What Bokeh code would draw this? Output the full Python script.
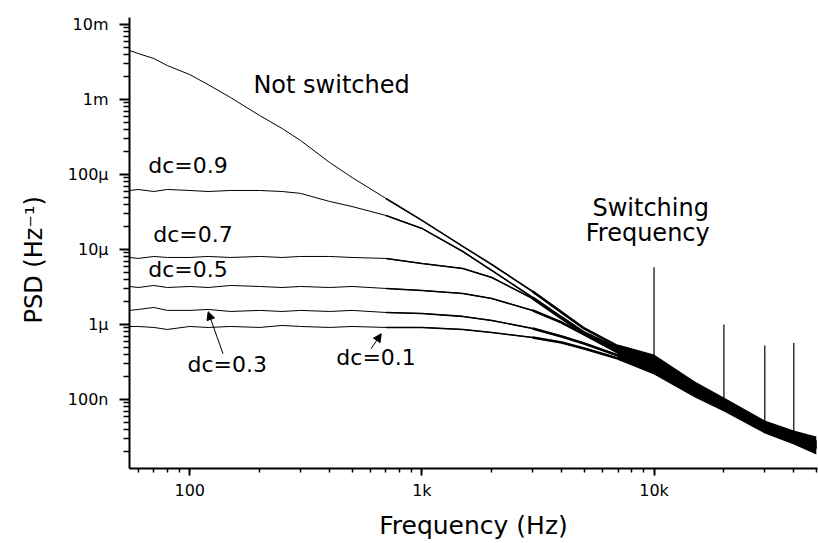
from bokeh.plotting import figure
from bokeh.models import (Range1d, FixedTicker, CustomJSTickFormatter, Arrow, NormalHead,
                          ColumnDataSource, Title)
from bokeh.core.properties import value
from bokeh.embed import file_html
from bokeh.resources import INLINE

# ---------------- data ----------------
freq = [55, 60, 70, 80, 100, 120, 150, 200, 250, 300, 400, 500, 700, 1000,
        1500, 2000, 3000, 4000, 5000, 7000, 10000, 15000, 20000, 30000, 40000, 50000]

psd_not_switched = [4.50e-3, 4.10e-3, 3.52e-3, 2.84e-3, 2.15e-3, 1.58e-3, 1.06e-3, 6.12e-4,
                    4.10e-4, 2.84e-4, 1.45e-4, 9.12e-5, 4.79e-5, 2.44e-5, 1.10e-5, 6.31e-6,
                    2.75e-6, 1.45e-6, 8.85e-7, 5.09e-7, 3.52e-7, 1.49e-7, 9.40e-8, 4.64e-8,
                    3.41e-8, 2.75e-8]
psd_dc09 = [6.12e-5, 6.31e-5, 5.93e-5, 6.31e-5, 6.12e-5, 5.93e-5, 6.12e-5, 6.12e-5,
            5.93e-5, 5.60e-5, 4.37e-5, 3.74e-5, 2.84e-5, 1.91e-5, 9.40e-6, 5.25e-6,
            2.29e-6, 1.24e-6, 7.82e-7, 4.79e-7, 3.31e-7, 1.45e-7, 9.12e-8, 4.50e-8,
            3.31e-8, 2.59e-8]
psd_dc07 = [7.82e-6, 7.59e-6, 8.07e-6, 7.82e-6, 7.82e-6, 8.07e-6, 7.82e-6, 8.07e-6,
            7.82e-6, 8.07e-6, 8.07e-6, 7.82e-6, 7.59e-6, 6.51e-6, 5.58e-6, 4.23e-6,
            2.22e-6, 1.20e-6, 7.59e-7, 4.50e-7, 3.21e-7, 1.40e-7, 8.85e-8, 4.37e-8,
            3.21e-8, 2.51e-8]
psd_dc05 = [3.21e-6, 3.11e-6, 3.31e-6, 3.11e-6, 3.21e-6, 3.11e-6, 3.31e-6, 3.21e-6,
            3.11e-6, 3.21e-6, 3.11e-6, 3.21e-6, 3.02e-6, 2.84e-6, 2.59e-6, 2.22e-6,
            1.54e-6, 1.06e-6, 7.36e-7, 4.23e-7, 3.02e-7, 1.32e-7, 8.32e-8, 4.23e-8,
            3.11e-8, 2.36e-8]
psd_dc03 = [1.54e-6, 1.585e-6, 1.685e-6, 1.54e-6, 1.54e-6, 1.585e-6, 1.49e-6, 1.54e-6,
            1.49e-6, 1.54e-6, 1.49e-6, 1.54e-6, 1.445e-6, 1.40e-6, 1.28e-6, 1.13e-6,
            8.85e-7, 6.92e-7, 5.58e-7, 3.86e-7, 2.75e-7, 1.28e-7, 8.07e-8, 4.10e-8,
            3.02e-8, 2.29e-8]
psd_dc01 = [9.40e-7, 9.40e-7, 9.12e-7, 8.58e-7, 9.40e-7, 9.12e-7, 9.40e-7, 9.12e-7,
            9.70e-7, 9.40e-7, 9.12e-7, 9.40e-7, 9.12e-7, 9.12e-7, 8.58e-7, 7.82e-7,
            6.71e-7, 5.75e-7, 4.79e-7, 3.52e-7, 2.51e-7, 1.20e-7, 7.82e-8, 3.98e-8,
            2.93e-8, 2.22e-8]

# noise envelope of the merged curves at high frequency
band_f = [7000, 10000, 15000, 20000, 30000, 40000, 50000]
band_hi = [5.40e-7, 3.98e-7, 1.74e-7, 1.06e-7, 5.25e-8, 3.86e-8, 3.21e-8]
band_lo = [3.35e-7, 2.15e-7, 1.06e-7, 6.92e-8, 3.52e-8, 2.51e-8, 1.85e-8]

# switching-frequency harmonics
spike_f = [10000, 20000, 30000, 40000]
spike_base = [3.5e-7, 1.0e-7, 4.6e-8, 3.5e-8]
spike_top = [5.81e-6, 1.0e-6, 5.25e-7, 5.64e-7]

# annotations (left end / baseline of each text)
label_text = ["Not switched", "dc=0.9", "dc=0.7", "dc=0.5", "dc=0.3", "dc=0.1",
              "Switching", "Frequency"]
label_f = [188, 66.2, 69.6, 66.2, 97.7, 428, 5430, 5080]
label_v = [1.55e-3, 1.30e-4, 1.58e-5, 5.4e-6, 2.9e-7, 3.6e-7, 3.6e-5, 1.67e-5]
label_size = ["24px", "22px", "22px", "22px", "22px", "22px", "24px", "24px"]

arrow_f_start = [139, 604]
arrow_v_start = [4.07e-7, 4.74e-7]
arrow_f_end = [120, 668]
arrow_v_end = [1.48e-6, 7.52e-7]

x_ticks = [100, 1000, 10000]
x_tick_labels = ["100", "1k", "10k"]
y_ticks = [1e-7, 1e-6, 1e-5, 1e-4, 1e-3, 1e-2]
y_tick_labels = ["100n", "1μ", "10μ", "100μ", "1m", "10m"]

x_label = "Frequency (Hz)"
y_label = "PSD (Hz⁻¹)"

# ---------------- figure ----------------
FONT = "DejaVu Sans"

p = figure(width=818, height=543, x_axis_type="log", y_axis_type="log",
           x_range=Range1d(55, 50600), y_range=Range1d(1.2e-8, 1.24e-2),
           output_backend="svg", toolbar_location=None,
           min_border_left=128, min_border_right=1, min_border_top=17, min_border_bottom=75)
p.outline_line_color = None
p.grid.visible = False
p.background_fill_color = "white"
p.border_fill_color = "white"

series = [psd_not_switched, psd_dc09, psd_dc07, psd_dc05, psd_dc03, psd_dc01]
for s in series:
    p.line(freq, s, line_color="black", line_width=1)
    idx1 = [i for i, f in enumerate(freq) if f >= 700]
    p.line([freq[i] for i in idx1], [s[i] for i in idx1], line_color="black", line_width=1.6)
    idx2 = [i for i, f in enumerate(freq) if f >= 3000]
    p.line([freq[i] for i in idx2], [s[i] for i in idx2], line_color="black", line_width=2.6)

p.varea(x=band_f, y1=band_lo, y2=band_hi, fill_color="black")
p.segment(x0=spike_f, y0=spike_base, x1=spike_f, y1=spike_top, line_color="black", line_width=1.2)

src = ColumnDataSource(dict(x=label_f, y=label_v, t=label_text, s=label_size))
p.text(x="x", y="y", text="t", source=src, text_font=value(FONT), text_font_size="s",
       text_align="left", text_baseline="alphabetic", text_color="black")

for xs, ys, xe, ye in zip(arrow_f_start, arrow_v_start, arrow_f_end, arrow_v_end):
    p.add_layout(Arrow(end=NormalHead(size=8, fill_color="black", line_color="black", line_width=1),
                       x_start=xs, y_start=ys, x_end=xe, y_end=ye,
                       line_color="black", line_width=1))

# axes
x_minor = [m * 10 ** e for e in range(1, 5) for m in range(2, 10)]
y_minor = [m * 10.0 ** e for e in range(-8, -2) for m in range(2, 10)]
p.xaxis.ticker = FixedTicker(ticks=x_ticks, minor_ticks=x_minor)
p.yaxis.ticker = FixedTicker(ticks=y_ticks, minor_ticks=y_minor)

fmt_code = """
let best = 0, bd = 1e9;
for (let i = 0; i < tv.length; i++) {
  const d = Math.abs(Math.log10(tick) - Math.log10(tv[i]));
  if (d < bd) { bd = d; best = i; }
}
return tl[best];
"""
p.xaxis.formatter = CustomJSTickFormatter(args=dict(tv=x_ticks, tl=x_tick_labels), code=fmt_code)
p.yaxis.formatter = CustomJSTickFormatter(args=dict(tv=y_ticks, tl=y_tick_labels), code=fmt_code)

for ax in (p.xaxis[0], p.yaxis[0]):
    ax.axis_line_width = 2
    ax.axis_line_color = "black"
    ax.major_tick_line_width = 2
    ax.minor_tick_line_width = 1.5
    ax.major_tick_line_color = "black"
    ax.minor_tick_line_color = "black"
    ax.major_tick_in = 0
    ax.minor_tick_in = 0
    ax.major_label_text_font = FONT
    ax.major_label_text_font_size = "16px"
    ax.major_label_text_color = "black"
    ax.axis_label_text_font = FONT
    ax.axis_label_text_font_style = "normal"
    ax.axis_label_text_color = "black"

p.xaxis.axis_label = x_label
p.xaxis.major_tick_out = 7
p.xaxis.minor_tick_out = 4
p.yaxis.major_tick_out = 10
p.yaxis.minor_tick_out = 6
p.xaxis.major_label_standoff = 5
p.yaxis.major_label_standoff = 11
p.xaxis.axis_label_text_font_size = "25px"
p.xaxis.axis_label_standoff = 8

# y label as a left-side title so that it can sit below the frame centre, as in the reference
p.add_layout(Title(text=y_label, align="left", offset=145, standoff=34,
                   text_font=FONT, text_font_size="24px", text_font_style="normal",
                   text_color="black"), "left")

open("out.html", "w").write(file_html(p, INLINE))
